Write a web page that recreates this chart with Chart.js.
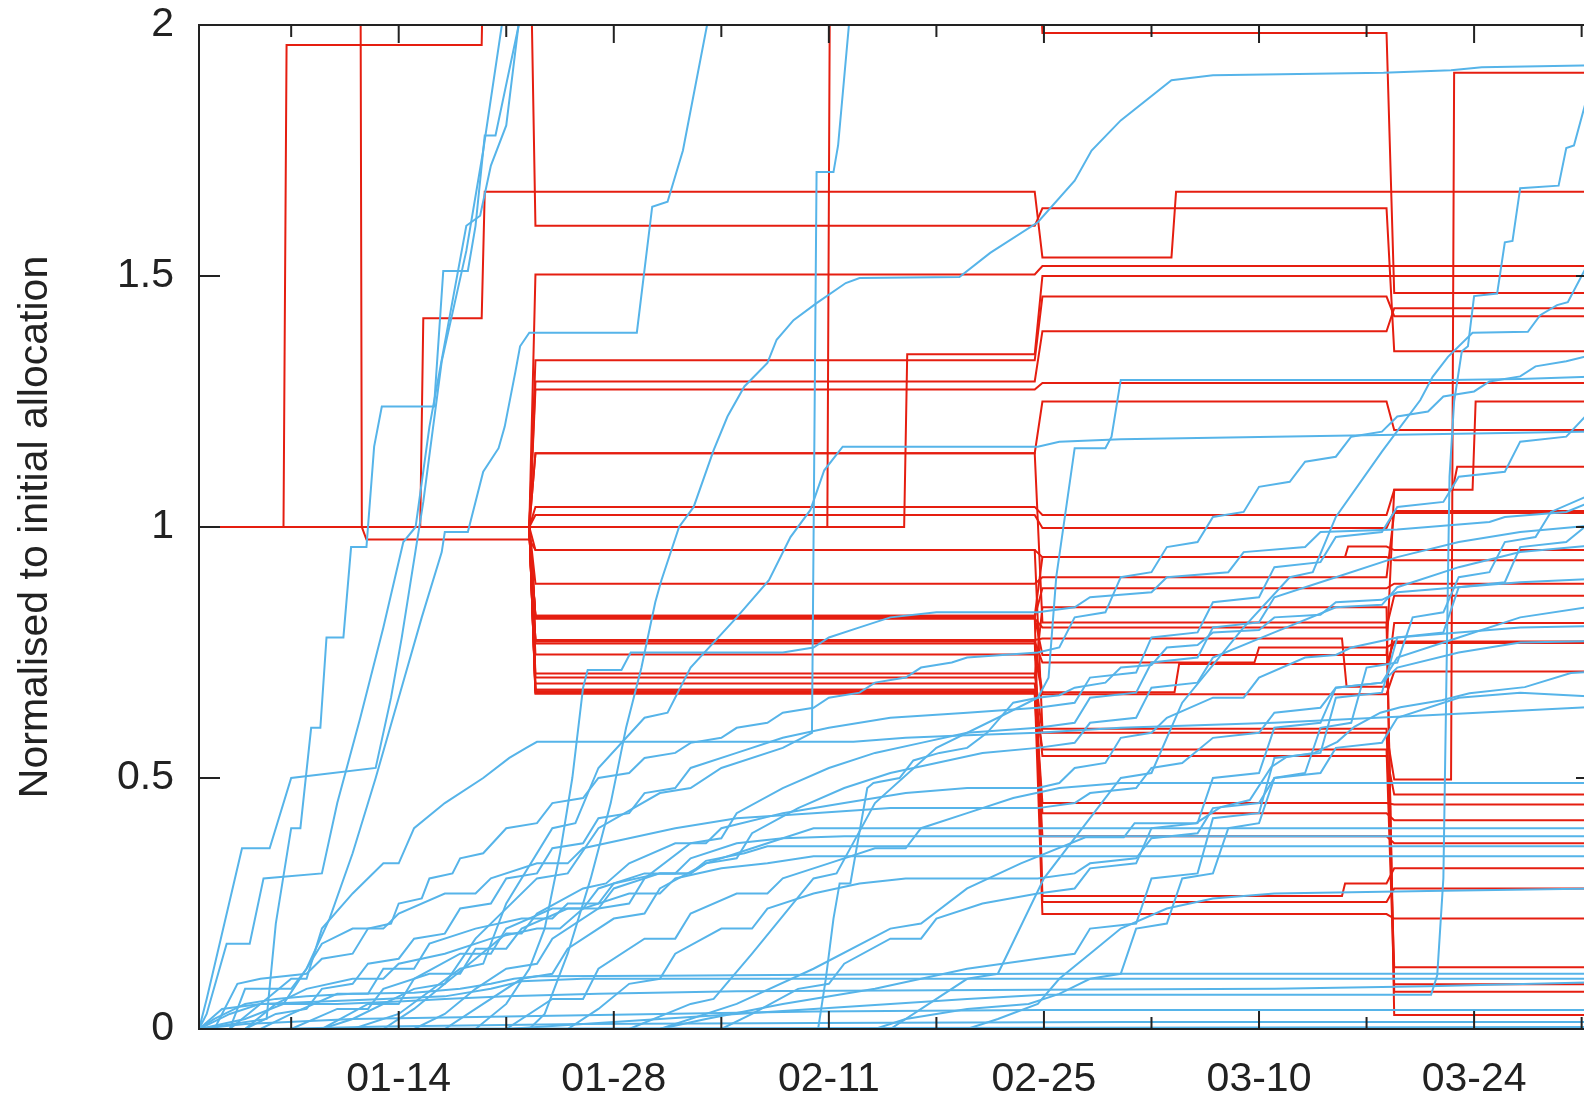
<!DOCTYPE html>
<html>
<head>
<meta charset="utf-8">
<script src="https://cdn.jsdelivr.net/npm/chart.js@4.4.1/dist/chart.umd.min.js"></script>
<style>
  html, body { margin: 0; padding: 0; background: #fff; overflow: hidden; }
  #wrap { width: 1640px; height: 1102px; }
</style>
</head>
<body>
<div id="wrap"><canvas id="chart" width="1640" height="1102"></canvas></div>
<script>
// x values are days since 01-01; y values are normalised to the initial allocation
const xTickDays   = [6, 13, 20, 27, 34, 41, 48, 55, 62, 69, 76, 83, 90];
const xTickLabels = ['', '01-14', '', '01-28', '', '02-11', '', '02-25', '', '03-10', '', '03-24', ''];
const yTickValues = [0, 0.5, 1, 1.5, 2];
const yTickLabels = ['0', '0.5', '1', '1.5', '2'];
const yTitle = 'Normalised to initial allocation';

// allocation series (red)
const r01 = [[0,1],[5.5,1],[5.7,1.96],[18.4,1.96],[18.6,2.3],[21.5,2.3],[21.9,1.60],[54.4,1.60],[54.9,1.635],[77.3,1.635],[77.8,1.35],[91,1.35]];
const r02 = [[0,2.3],[10.5,2.3],[10.6,1.0],[10.9,0.975],[21.5,0.975],[21.9,0.954],[54.4,0.954],[54.9,0.94],[77.3,0.94],[77.8,0.934],[91,0.934]];
const r03 = [[0,1],[14.4,1],[14.6,1.416],[18.4,1.416],[18.6,1.668],[21.5,1.668],[21.9,1.668],[54.4,1.668],[54.9,1.537],[63.3,1.537],[63.6,1.668],[91,1.668]];
const r04 = [[0,1],[21.5,1],[21.9,1.0],[40.9,1.0],[41.1,2.3],[54.4,2.3],[54.9,1.984],[77.3,1.984],[77.8,1.466],[91,1.466]];
const r05 = [[0,1],[21.5,1],[21.9,1.0],[45.9,1.0],[46.1,1.344],[54.4,1.344],[54.9,1.50],[91,1.50]];
const r06 = [[0,1],[21.5,1],[21.9,1.503],[54.4,1.503],[54.9,1.52],[91,1.52]];
const r07 = [[0,1],[21.5,1],[21.9,1.332],[54.4,1.332],[54.9,1.459],[77.3,1.459],[77.8,1.42],[91,1.42]];
const r08 = [[0,1],[21.5,1],[21.9,1.29],[54.4,1.29],[54.9,1.39],[77.3,1.39],[77.8,1.436],[91,1.436]];
const r09 = [[0,1],[21.5,1],[21.9,1.274],[54.4,1.274],[54.9,1.287],[91,1.287]];
const r10 = [[0,1],[21.5,1],[21.9,1.147],[54.4,1.147],[54.9,1.25],[77.3,1.25],[77.8,1.193],[91,1.193]];
const r11 = [[0,1],[21.5,1],[21.9,1.04],[54.4,1.04],[54.9,1.024],[77.3,1.024],[77.8,1.074],[81.6,1.074],[81.9,1.12],[91,1.12]];
const r12 = [[0,1],[21.5,1],[21.9,1.024],[54.4,1.024],[54.9,0.998],[77.3,0.998],[77.8,1.032],[91,1.032]];
const r13 = [[0,1],[21.5,1],[21.9,0.887],[54.4,0.887],[54.9,0.90],[77.3,0.90],[77.8,1.028],[91,1.028]];
const r14 = [[0,1],[21.5,1],[21.9,0.823],[54.4,0.823],[54.9,0.94],[74.6,0.94],[74.8,0.961],[77.3,0.961],[77.8,0.954],[91,0.954]];
const r15 = [[0,1],[21.5,1],[21.9,0.82],[54.4,0.82],[54.9,0.878],[77.3,0.878],[77.8,0.887],[91,0.887]];
const r16 = [[0,1],[21.5,1],[21.9,0.817],[54.4,0.817],[54.9,0.80],[77.3,0.80],[77.8,0.863],[91,0.863]];
const r17 = [[0,1],[21.5,1],[21.9,0.775],[54.4,0.775],[54.9,0.778],[74.4,0.778],[74.7,0.682],[77.3,0.682],[77.8,0.809],[91,0.809]];
const r18 = [[0,1],[21.5,1],[21.9,0.772],[54.4,0.772],[54.9,0.73],[68.7,0.73],[69.0,0.76],[77.3,0.76],[77.8,0.769],[91,0.769]];
const r19 = [[0,1],[21.5,1],[21.9,0.768],[54.4,0.768],[54.9,0.671],[63.5,0.671],[63.8,0.727],[77.3,0.727],[77.8,0.772],[91,0.772]];
const r20 = [[0,1],[21.5,1],[21.9,0.746],[54.4,0.746],[54.9,0.667],[77.3,0.667],[77.8,0.712],[91,0.712]];
const r21 = [[0,1],[21.5,1],[21.9,0.708],[54.4,0.708],[54.9,0.59],[77.3,0.59],[77.8,0.497],[81.5,0.497],[81.7,1.905],[91,1.905]];
const r22 = [[0,1],[21.5,1],[21.9,0.688],[54.4,0.688],[54.9,0.544],[77.3,0.544],[77.8,0.467],[91,0.467]];
const r23 = [[0,1],[21.5,1],[21.9,0.676],[54.4,0.676],[54.9,0.45],[77.3,0.45],[77.8,0.447],[91,0.447]];
const r24 = [[0,1],[21.5,1],[21.9,0.672],[54.4,0.672],[54.9,0.43],[77.3,0.43],[77.8,0.416],[91,0.416]];
const r25 = [[0,1],[21.5,1],[21.9,0.668],[54.4,0.668],[54.9,0.384],[77.3,0.384],[77.8,0.37],[91,0.37]];
const r26 = [[0,1],[21.5,1],[21.9,0.823],[54.4,0.823],[54.9,0.265],[74.4,0.265],[74.6,0.29],[77.3,0.29],[77.8,0.32],[91,0.32]];
const r27 = [[0,1],[21.5,1],[21.9,0.775],[54.4,0.775],[54.9,0.253],[77.3,0.253],[77.8,0.28],[91,0.28]];
const r28 = [[0,1],[21.5,1],[21.9,0.676],[54.4,0.676],[54.9,0.229],[77.3,0.229],[77.8,0.22],[91,0.22]];
const r29 = [[0,1],[21.5,1],[21.9,0.954],[54.4,0.954],[54.9,0.598],[77.3,0.598],[77.8,0.123],[91,0.123]];
const r30 = [[0,1],[21.5,1],[21.9,0.67],[54.4,0.67],[54.9,0.557],[77.3,0.557],[77.8,0.089],[91,0.089]];
const r31 = [[0,1],[21.5,1],[21.9,1.147],[54.4,1.147],[54.9,0.81],[77.3,0.81],[77.8,0.074],[91,0.074]];
const r32 = [[0,1],[21.5,1],[21.9,0.70],[54.4,0.70],[54.9,0.84],[77.3,0.84],[77.8,0.028],[91,0.028]];
const r33 = [[0,1],[21.5,1],[21.9,0.82],[54.4,0.82],[54.9,0.745],[77.3,0.745],[77.8,1.074],[82.9,1.074],[83.1,1.25],[91,1.25]];

// usage series (blue)
const b01 = [[0,0],[0.5,0.06],[2.8,0.36],[4.6,0.36],[6.0,0.5],[11.5,0.52],[12.5,0.66],[13.2,0.78],[14.6,1.05],[15.8,1.33],[17.4,1.55],[18.5,1.75],[20.2,2.1]];
const b02 = [[0,0],[4.4,0.02],[5.0,0.21],[6.0,0.40],[6.6,0.40],[7.3,0.60],[7.9,0.60],[8.3,0.78],[9.4,0.78],[9.9,0.96],[10.9,0.96],[11.4,1.16],[11.9,1.24],[15.3,1.24],[15.9,1.51],[17.5,1.51],[18.0,1.60],[18.6,1.78],[19.3,1.78],[21.5,2.1]];
const b03 = [[0,0],[3,0.02],[5.5,0.05],[7,0.12],[8.5,0.22],[10,0.35],[11.5,0.5],[13,0.66],[14.5,0.82],[15.8,0.95],[16.0,0.99],[17.5,0.99],[18.5,1.11],[19.5,1.157],[19.9,1.2],[20.6,1.31],[20.9,1.36],[21.5,1.387],[28.5,1.387],[29.5,1.638],[30.5,1.648],[31.5,1.75],[33.7,2.1]];
const b04 = [[0,0],[0.5,0.03],[1.8,0.17],[3.3,0.17],[4.2,0.3],[8.0,0.31],[9.0,0.45],[10.5,0.62],[12.0,0.8],[13.3,0.97],[14.1,1.0],[15.0,1.2],[16.5,1.45],[17.4,1.6],[18.3,1.62],[19.0,1.72],[20.0,1.8],[21.2,2.1]];
const b05 = [[21.5,0],[22.5,0.03],[24,0.15],[25.5,0.3],[26.8,0.45],[27.8,0.6],[28.8,0.72],[29.7,0.85],[30.1,0.894],[31.25,1.0],[32.2,1.04],[33.5,1.153],[34.4,1.22],[35.5,1.28],[37.0,1.327],[37.6,1.373],[38.7,1.412],[40.2,1.446],[42.1,1.486],[43.0,1.496],[49.5,1.498],[51.5,1.546],[54.6,1.607],[57,1.69],[58.1,1.75],[60,1.81],[63.3,1.89],[66,1.90],[77.1,1.905],[81.5,1.91],[83.5,1.916],[91,1.92]];
const b06 = [[8,0],[10,0.02],[14,0.08],[16,0.09],[18,0.18],[22,0.3],[24,0.31],[26,0.4],[30,0.47],[32,0.48],[34,0.52],[38,0.56],[39.9,0.59],[40.2,1.707],[41.3,1.707],[41.6,1.76],[42.6,2.1]];
const b07 = [[10,0],[13,0.03],[17,0.12],[18.5,0.13],[20,0.25],[23,0.4],[24.5,0.41],[26,0.52],[29,0.62],[30.5,0.63],[32,0.72],[35,0.82],[37.1,0.894],[38.5,0.98],[39.8,1.034],[40.7,1.113],[41.9,1.16],[54.6,1.16],[56,1.17],[60,1.175],[70,1.18],[80,1.185],[91,1.19]];
const b08 = [[28,0],[32,0.05],[33.5,0.06],[36,0.15],[40,0.3],[41.5,0.31],[44,0.45],[48,0.56],[52,0.62],[54.6,0.66],[55.3,0.7],[55.8,0.9],[57.0,1.157],[59.0,1.157],[59.4,1.18],[60.0,1.293],[81.4,1.293],[86,1.295],[91,1.3]];
const b09 = [[20,0],[30,0.02],[40,0.04],[50,0.06],[55,0.068],[80.2,0.068],[80.6,0.107],[81.0,0.3],[81.2,0.7],[81.4,1.1],[81.7,1.25],[82.2,1.35],[82.6,1.36],[83.0,1.46],[84.5,1.465],[85.0,1.567],[85.5,1.57],[86.0,1.675],[88.5,1.68],[89.0,1.755],[89.5,1.76],[90.3,1.85],[91,1.95]];
const b10 = [[45,0],[50,0.1],[52,0.11],[55,0.3],[60,0.5],[62,0.51],[64,0.65],[68,0.8],[71,0.9],[72.5,0.91],[74,1.02],[77,1.15],[79.5,1.253],[80.3,1.299],[81.3,1.339],[82.9,1.387],[86.5,1.389],[87.3,1.422],[88.4,1.442],[89.1,1.448],[90.2,1.512],[91,1.55]];
const b11 = [[2,0],[4,0.05],[6,0.1],[7,0.1],[8,0.2],[10,0.27],[12,0.33],[13,0.33],[14,0.4],[16,0.45],[18.5,0.5],[20.2,0.54],[21.3,0.56],[22,0.572],[42.6,0.572],[46,0.58],[50,0.585],[54.6,0.59],[60,0.6],[70,0.61],[80,0.625],[91,0.642]];
const b12 = [[18,0],[20,0.05],[21.5,0.12],[22.5,0.2],[23.5,0.35],[24.3,0.5],[25.0,0.68],[25.3,0.715],[27.5,0.715],[28.1,0.75],[38,0.75],[40,0.76],[41,0.78],[43,0.8],[45,0.82],[48,0.83],[54.6,0.83],[57,0.84],[58,0.86],[62,0.87],[63,0.9],[67,0.91],[68,0.95],[72,0.96],[73,0.99],[78,0.995],[80,1.0],[84,1.01],[85,1.02],[89,1.03],[91,1.055]];
const b13 = [[40.3,0],[40.8,0.1],[41.3,0.22],[41.7,0.29],[42.4,0.29],[43.5,0.48],[43.9,0.49],[45.6,0.5],[46.5,0.535],[48.2,0.55],[50,0.56],[51.3,0.59],[53,0.65],[54.6,0.66],[56,0.665],[57,0.68],[59,0.69],[60,0.72],[62,0.725],[63,0.76],[65,0.765],[66,0.79],[69,0.795],[70,0.82],[73,0.825],[74,0.85],[77,0.855],[78,0.87],[82,0.88],[86,0.89],[91,0.897]];
const b14 = [[30,0],[35,0.05],[40,0.12],[45,0.2],[47,0.21],[50,0.28],[53.5,0.33],[57.7,0.382],[60.2,0.382],[60.9,0.41],[64.9,0.41],[66.5,0.442],[68.4,0.456],[69.8,0.522],[70.8,0.542],[72.6,0.55],[74.1,0.572],[75.2,0.602],[76.9,0.63],[78.2,0.641],[80.9,0.655],[82.7,0.669],[86.3,0.681],[89.3,0.709],[91,0.712]];
const b15 = [[0,0],[1,0.02],[3,0.05],[5,0.06],[7,0.065],[10,0.07],[14,0.072],[17,0.08],[19,0.09],[20.5,0.1],[22,0.105],[30,0.106],[40,0.108],[54.6,0.11],[70,0.11],[91,0.11]];
const b16 = [[0,0],[2,0.03],[4,0.05],[8,0.055],[12,0.06],[16,0.065],[19,0.08],[21,0.095],[25,0.1],[40,0.1],[54.6,0.1],[91,0.1]];
const b17 = [[0,0],[1.5,0.04],[4,0.05],[9,0.05],[13,0.055],[16,0.06],[20,0.065],[26,0.07],[35,0.075],[54.6,0.078],[70,0.08],[80,0.085],[91,0.093]];
const b18 = [[0,0],[3,0.01],[10,0.02],[20,0.025],[30,0.03],[40,0.035],[54.6,0.038],[70,0.038],[91,0.038]];
const b19 = [[5,0],[12,0.005],[25,0.01],[40,0.012],[60,0.014],[91,0.014]];
const b20 = [[0,0],[45,0.002],[91,0.004]];
const b21 = [[4,0],[6,0.03],[9,0.07],[11,0.07],[12,0.12],[14,0.12],[15,0.17],[18,0.2],[21,0.22],[23,0.22],[24,0.25],[26,0.25],[27,0.29],[30,0.31],[32,0.31],[33,0.33],[36,0.36],[38,0.38],[40,0.4],[54.6,0.4],[70,0.4],[91,0.4]];
const b22 = [[6,0],[9,0.04],[11,0.04],[12,0.08],[15,0.11],[17,0.11],[18,0.16],[20,0.16],[21,0.2],[24,0.24],[26,0.24],[27,0.28],[30,0.31],[32,0.31],[33,0.335],[35.5,0.35],[37,0.364],[54.6,0.364],[91,0.364]];
const b23 = [[3,0],[5,0.05],[7,0.08],[10,0.1],[12,0.1],[13,0.13],[16,0.15],[19,0.18],[22,0.2],[23.5,0.2],[25,0.24],[28,0.27],[30,0.27],[31,0.3],[34,0.32],[37,0.33],[40,0.344],[54.6,0.344],[91,0.344]];
const b24 = [[8,0],[11,0.05],[13,0.05],[14,0.1],[17,0.15],[19,0.15],[20,0.2],[23,0.24],[25,0.24],[26,0.28],[29,0.31],[31,0.31],[32,0.34],[35,0.37],[38,0.38],[42,0.384],[54.6,0.384],[91,0.384]];
const b25 = [[2,0],[3,0.08],[6,0.08],[7,0.12],[8,0.17],[10,0.2],[12,0.2],[13,0.23],[16,0.27],[18,0.27],[19,0.3],[22,0.33],[24,0.33],[25,0.36],[28,0.38],[31,0.4],[35,0.42],[40,0.43],[45,0.44],[54.6,0.44],[57,0.45],[58,0.47],[61,0.48],[62,0.52],[64,0.53],[66,0.58],[69,0.59],[70,0.63],[73,0.64],[74,0.68],[77,0.69],[78,0.72],[82,0.75],[86,0.77],[91,0.773]];
const b26 = [[12,0],[14,0.04],[16,0.09],[18,0.14],[20,0.19],[21,0.19],[22,0.23],[25,0.28],[26.5,0.29],[28,0.33],[31,0.37],[33,0.37],[34,0.4],[38,0.43],[42,0.45],[46,0.47],[50,0.48],[54.6,0.48],[56,0.49],[57,0.52],[59,0.53],[60,0.58],[62,0.59],[63,0.62],[66,0.66],[68,0.66],[69,0.7],[72,0.74],[74,0.745],[75,0.76],[78,0.78],[82,0.79],[86,0.8],[91,0.803]];
const b27 = [[20,0],[23,0.06],[25,0.06],[26,0.12],[29,0.18],[31,0.18],[32,0.23],[35,0.27],[37,0.27],[38,0.3],[41,0.33],[44,0.36],[46,0.36],[47,0.4],[50,0.43],[53,0.46],[56,0.48],[60,0.49],[91,0.49]];
const b28 = [[1,0],[2.5,0.09],[4,0.1],[7,0.11],[8,0.14],[10,0.15],[11,0.2],[12.5,0.21],[13,0.25],[14.5,0.26],[15,0.3],[16.5,0.31],[17,0.34],[18.5,0.35],[20,0.4],[22,0.41],[23,0.45],[25,0.46],[26,0.5],[28,0.51],[29,0.54],[31,0.55],[32,0.57],[34,0.58],[35,0.6],[37,0.61],[38,0.63],[40,0.64],[41,0.66],[43,0.67],[44,0.69],[46,0.7],[47,0.72],[49,0.73],[50,0.74],[54.6,0.75],[56,0.76],[57,0.82],[59,0.83],[60,0.9],[62,0.91],[63,0.96],[65,0.97],[66,1.02],[68,1.03],[69,1.08],[71,1.09],[72,1.13],[74,1.14],[75,1.18],[77,1.19],[78,1.22],[80,1.23],[81,1.26],[83,1.27],[84,1.29],[86,1.3],[87,1.32],[89,1.33],[91,1.345]];
const b29 = [[3,0],[5,0.03],[7,0.04],[8,0.08],[10,0.09],[11,0.13],[13,0.14],[14,0.18],[16,0.19],[17,0.24],[19,0.25],[20,0.3],[22,0.31],[23,0.36],[25,0.37],[26,0.42],[28,0.43],[29,0.47],[31,0.48],[32,0.52],[35,0.55],[38,0.58],[41,0.6],[45,0.62],[50,0.63],[54.6,0.64],[57,0.65],[58,0.7],[61,0.71],[62,0.78],[65,0.79],[66,0.85],[69,0.86],[70,0.92],[73,0.93],[74,0.98],[77,0.99],[78,1.04],[81,1.05],[82,1.1],[85,1.11],[86,1.17],[89,1.18],[91,1.245]];
const b30 = [[14,0],[16,0.03],[18,0.08],[20,0.12],[22,0.13],[23,0.18],[26,0.24],[28,0.25],[29,0.3],[32,0.37],[34,0.38],[35,0.43],[38,0.48],[41,0.52],[44,0.55],[47,0.57],[50,0.59],[54.6,0.6],[57,0.61],[58,0.66],[61,0.67],[62,0.73],[65,0.74],[66,0.8],[69,0.81],[70,0.86],[74,0.9],[78,0.94],[82,0.97],[86,0.99],[91,1.004]];
const b31 = [[16,0],[18,0.04],[21,0.1],[23,0.11],[24,0.16],[27,0.22],[29,0.23],[30,0.28],[33,0.33],[35,0.34],[36,0.39],[39,0.44],[42,0.48],[45,0.51],[48,0.53],[51,0.55],[54.6,0.56],[57,0.57],[58,0.61],[61,0.62],[62,0.68],[65,0.69],[66,0.74],[70,0.79],[74,0.84],[77,0.845],[78,0.88],[82,0.92],[86,0.95],[91,0.964]];
const b32 = [[24,0],[26,0.04],[28,0.09],[30,0.1],[31,0.15],[34,0.2],[36,0.2],[37,0.24],[40,0.27],[43,0.29],[46,0.3],[54.6,0.3],[57,0.31],[58,0.33],[61,0.34],[62,0.38],[65,0.39],[66,0.44],[69,0.45],[70,0.5],[73,0.51],[74,0.56],[77,0.57],[78,0.62],[82,0.66],[86,0.67],[91,0.662]];
const b33 = [[34,0],[36,0.03],[39,0.08],[41,0.09],[42,0.13],[45,0.18],[47,0.18],[48,0.22],[51,0.25],[54.6,0.27],[57,0.28],[58,0.32],[61,0.33],[62,0.4],[65,0.41],[66,0.5],[69,0.51],[70,0.6],[73,0.61],[74,0.68],[77,0.69],[78,0.74],[82,0.78],[86,0.82],[91,0.843]];
const b34 = [[44,0],[46,0.02],[50,0.04],[54,0.05],[56,0.07],[58,0.1],[60,0.11],[61,0.2],[63,0.21],[64,0.3],[66,0.31],[67,0.4],[69,0.41],[70,0.5],[72,0.51],[73,0.6],[75,0.61],[76,0.72],[78,0.73],[79,0.82],[81,0.83],[82,0.9],[84,0.91],[85,0.97],[87,0.98],[88,1.03],[91,1.07]];
const b35 = [[30,0],[33,0.02],[38,0.05],[44,0.08],[50,0.12],[54.6,0.14],[57,0.15],[58,0.2],[61,0.21],[62,0.3],[65,0.31],[66,0.42],[69,0.43],[70,0.54],[73,0.55],[74,0.66],[77,0.67],[78,0.78],[81,0.79],[82,0.88],[85,0.89],[86,0.96],[89,0.97],[91,1.02]];
const b36 = [[50,0],[52,0.02],[54.6,0.05],[56,0.1],[58,0.15],[60,0.2],[63,0.24],[66,0.26],[70,0.27],[80,0.275],[91,0.28]];

const redSeries = [r01,r02,r03,r04,r05,r06,r07,r08,r09,r10,r11,r12,r13,r14,r15,r16,r17,r18,r19,r20,r21,r22,r23,r24,r25,r26,r27,r28,r29,r30,r31,r32,r33];
const blueSeries = [b01,b02,b03,b04,b05,b06,b07,b08,b09,b10,b11,b12,b13,b14,b15,b16,b17,b18,b19,b20,b21,b22,b23,b24,b25,b26,b27,b28,b29,b30,b31,b32,b33,b34,b35,b36];

const RED = '#e51e10';
const BLUE = '#56b4e9';
const FONT = 'Liberation Sans, Arial, sans-serif';
const INK = '#222';

function toPoints(s) { return s.map(p => ({ x: p[0], y: p[1] })); }

const datasets = [];
redSeries.forEach(s => datasets.push({ data: toPoints(s), borderColor: RED, borderWidth: 2, order: 2 }));
blueSeries.forEach(s => datasets.push({ data: toPoints(s), borderColor: BLUE, borderWidth: 2, order: 1 }));

// gnuplot-style frame with inward ticks on all four sides
const frame = {
  id: 'frame',
  afterDatasetsDraw(chart) {
    const { ctx, chartArea: a, scales: { x, y } } = chart;
    ctx.save();
    ctx.strokeStyle = INK;
    ctx.lineWidth = 2;
    ctx.beginPath();
    xTickDays.forEach((d, i) => {
      const px = x.getPixelForValue(d);
      const len = xTickLabels[i] ? 18 : 12;
      ctx.moveTo(px, a.bottom); ctx.lineTo(px, a.bottom - len);
      ctx.moveTo(px, a.top); ctx.lineTo(px, a.top + len);
    });
    yTickValues.forEach(v => {
      const py = y.getPixelForValue(v);
      ctx.moveTo(a.left, py); ctx.lineTo(a.left + 21, py);
      ctx.moveTo(a.right, py); ctx.lineTo(a.right - 21, py);
    });
    ctx.stroke();
    ctx.strokeRect(a.left, a.top, a.right - a.left, a.bottom - a.top);
    ctx.restore();
  }
};

new Chart(document.getElementById('chart'), {
  type: 'line',
  data: { datasets },
  options: {
    responsive: false,
    animation: false,
    devicePixelRatio: 1,
    events: [],
    elements: { point: { radius: 0 }, line: { tension: 0, fill: false } },
    layout: { padding: { left: 0, top: 25, right: 43, bottom: 0 } },
    plugins: { legend: { display: false }, tooltip: { enabled: false } },
    scales: {
      x: {
        type: 'linear', min: 0, max: 91,
        afterBuildTicks: s => { s.ticks = xTickDays.map(v => ({ value: v })); },
        afterFit: s => { s.height = 73; s.paddingLeft = 0; s.paddingRight = 0; },
        grid: { display: false, drawTicks: false },
        border: { display: false },
        ticks: {
          autoSkip: false, maxRotation: 0, padding: 26,
          color: INK, font: { family: FONT, size: 41 },
          callback: (v, i) => xTickLabels[i]
        }
      },
      y: {
        min: 0, max: 2,
        afterBuildTicks: s => { s.ticks = yTickValues.map(v => ({ value: v })); },
        afterFit: s => { s.width = 199; s.paddingTop = 0; s.paddingBottom = 0; },
        grid: { display: false, drawTicks: false },
        border: { display: false },
        ticks: {
          padding: 25, color: INK, font: { family: FONT, size: 41 },
          callback: (v, i) => yTickLabels[i]
        },
        title: {
          display: true, text: yTitle, color: INK,
          font: { family: FONT, size: 41 },
          padding: { top: 11, bottom: 0 }
        }
      }
    }
  },
  plugins: [frame]
});
</script>
</body>
</html>
